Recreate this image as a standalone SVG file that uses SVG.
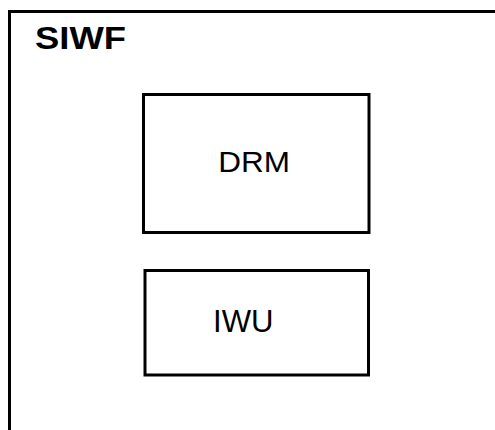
<svg xmlns="http://www.w3.org/2000/svg" width="495" height="430" viewBox="0 0 495 430">
<style>
.box{fill:#fff;stroke:#000;stroke-width:3}
.lbl{font-family:"Liberation Sans",Arial,sans-serif;fill:#000}
</style>
<rect width="495" height="430" fill="#fff"/>
<g id="SIWF">
<path d="M9.5,430 V11.5 H495" fill="none" stroke="#000" stroke-width="3"/>
<text class="lbl" x="35" y="49.3" font-size="30.5" font-weight="bold" textLength="91" lengthAdjust="spacingAndGlyphs">SIWF</text>
</g>
<g id="DRM">
<rect class="box" x="143.5" y="94.5" width="225.5" height="138"/>
<text class="lbl" x="218.3" y="171.7" font-size="30" textLength="71.7" lengthAdjust="spacingAndGlyphs">DRM</text>
</g>
<g id="IWU">
<rect class="box" x="145" y="270.5" width="223.5" height="104.5"/>
<text class="lbl" x="213" y="331.7" font-size="32" textLength="60.5" lengthAdjust="spacingAndGlyphs">IWU</text>
</g>
<g id="connectors"/>
</svg>
